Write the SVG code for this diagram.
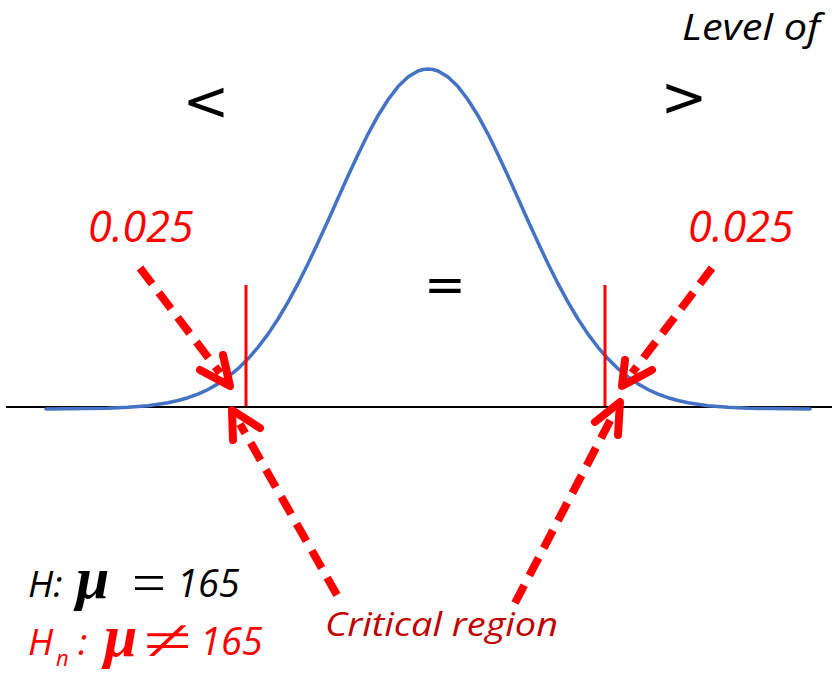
<svg xmlns="http://www.w3.org/2000/svg" width="832" height="673" viewBox="0 0 832 673">
<style>
.lbl{font-family:"Open Sans","Noto Sans",sans-serif;font-style:italic}
.red{fill:#ff0000}
.dark{fill:#c00000}
.blk{fill:#000}
.mu{font-family:"Liberation Serif","DejaVu Serif",serif;font-style:italic;font-weight:bold}
.sym{font-family:"DejaVu Sans","Noto Sans",sans-serif}
.rel{font-family:"Liberation Serif","DejaVu Serif",serif}
.dash{fill:none;stroke:#ff0000;stroke-width:8;stroke-dasharray:20 11}
.head{fill:none;stroke:#ff0000;stroke-width:8;stroke-linecap:round;stroke-linejoin:round}
.crit{stroke:#ff0000;stroke-width:3}
</style>
<rect width="832" height="673" fill="#fff"/>
<g id="axis">
<line x1="6" y1="407" x2="832" y2="407" stroke="#000" stroke-width="2"/>
</g>
<g id="curve">
<polyline fill="none" stroke="#4472c4" stroke-width="3.5" stroke-linejoin="round" stroke-linecap="round" points="46,409 86,408.6 108,408.2 128,407.3 148,405.7 168,402.7 178,400.5 188,397.7 198,394.1 208,389.5 218,383.9 228,377 238,368.7 248,358.8 258,347.3 268,334.1 278,319 288,302.2 298,283.7 308,263.8 318,242.6 328,220.7 338,198.3 348,176 358,154.4 368,134.1 378,115.7 388,99.7 398,86.6 408,77 418,71 423,69.5 428,69 433,69.5 438,71 448,77 458,86.6 468,99.7 478,115.7 488,134.1 498,154.4 508,176 518,198.3 528,220.7 538,242.6 548,263.8 558,283.7 568,302.2 578,319 588,334.1 598,347.3 608,358.8 618,368.7 628,377 638,383.9 648,389.5 658,394.1 668,397.7 678,400.5 688,402.7 708,405.7 728,407.3 748,408.2 770,408.6 810,409"/>
</g>
<g id="critical-lines">
<line class="crit" x1="246" y1="285" x2="246" y2="406"/>
<line class="crit" x1="605" y1="285" x2="605" y2="406"/>
</g>
<g id="connectors">
<line class="dash" x1="140" y1="268" x2="220" y2="373"/>
<polyline class="head" points="200,370 230,386 223,355"/>
<line class="dash" x1="712" y1="268" x2="632" y2="373"/>
<polyline class="head" points="625,360 622,386 652,370"/>
<line class="dash" x1="337" y1="595" x2="240" y2="424"/>
<polyline class="head" points="233,440 232,410 260,428"/>
<line class="dash" x1="515" y1="603" x2="612" y2="417"/>
<polyline class="head" points="595,422 620,402 618,435"/>
</g>
<g id="title">
<text class="lbl blk" x="682" y="40" font-size="37" textLength="138" lengthAdjust="spacingAndGlyphs">Level of</text>
</g>
<g id="symbols">
<text class="sym blk" x="206" y="120" font-size="56" text-anchor="middle">&lt;</text>
<text class="sym blk" x="684" y="116" font-size="56" text-anchor="middle">&gt;</text>
<text class="sym blk" x="445" y="302" font-size="50" text-anchor="middle">=</text>
</g>
<g id="alpha-left">
<text class="lbl red" x="88" y="242" font-size="43">0.025</text>
</g>
<g id="alpha-right">
<text class="lbl red" x="688" y="242" font-size="43">0.025</text>
</g>
<g id="critical-label">
<text class="lbl dark" x="325" y="636" font-size="32" textLength="233" lengthAdjust="spacingAndGlyphs">Critical region</text>
</g>
<g id="hypothesis-null">
<text class="lbl blk" x="28" y="597" font-size="37">H:</text>
<text class="mu blk" x="76" y="598" font-size="60">μ</text>
<text class="rel blk" x="132" y="602" font-size="56" textLength="34" lengthAdjust="spacingAndGlyphs">=</text>
<text class="lbl blk" x="177" y="597" font-size="38">165</text>
</g>
<g id="hypothesis-alt">
<text class="lbl red" x="28" y="655" font-size="37">H</text>
<text class="lbl red" x="56" y="666" font-size="22">n</text>
<text class="lbl red" x="78" y="655" font-size="37">:</text>
<text class="mu red" x="104" y="656" font-size="60">μ</text>
<text class="rel red" x="144" y="660" font-size="58" textLength="48" lengthAdjust="spacingAndGlyphs">≠</text>
<text class="lbl red" x="200" y="655" font-size="38">165</text>
</g>
</svg>
